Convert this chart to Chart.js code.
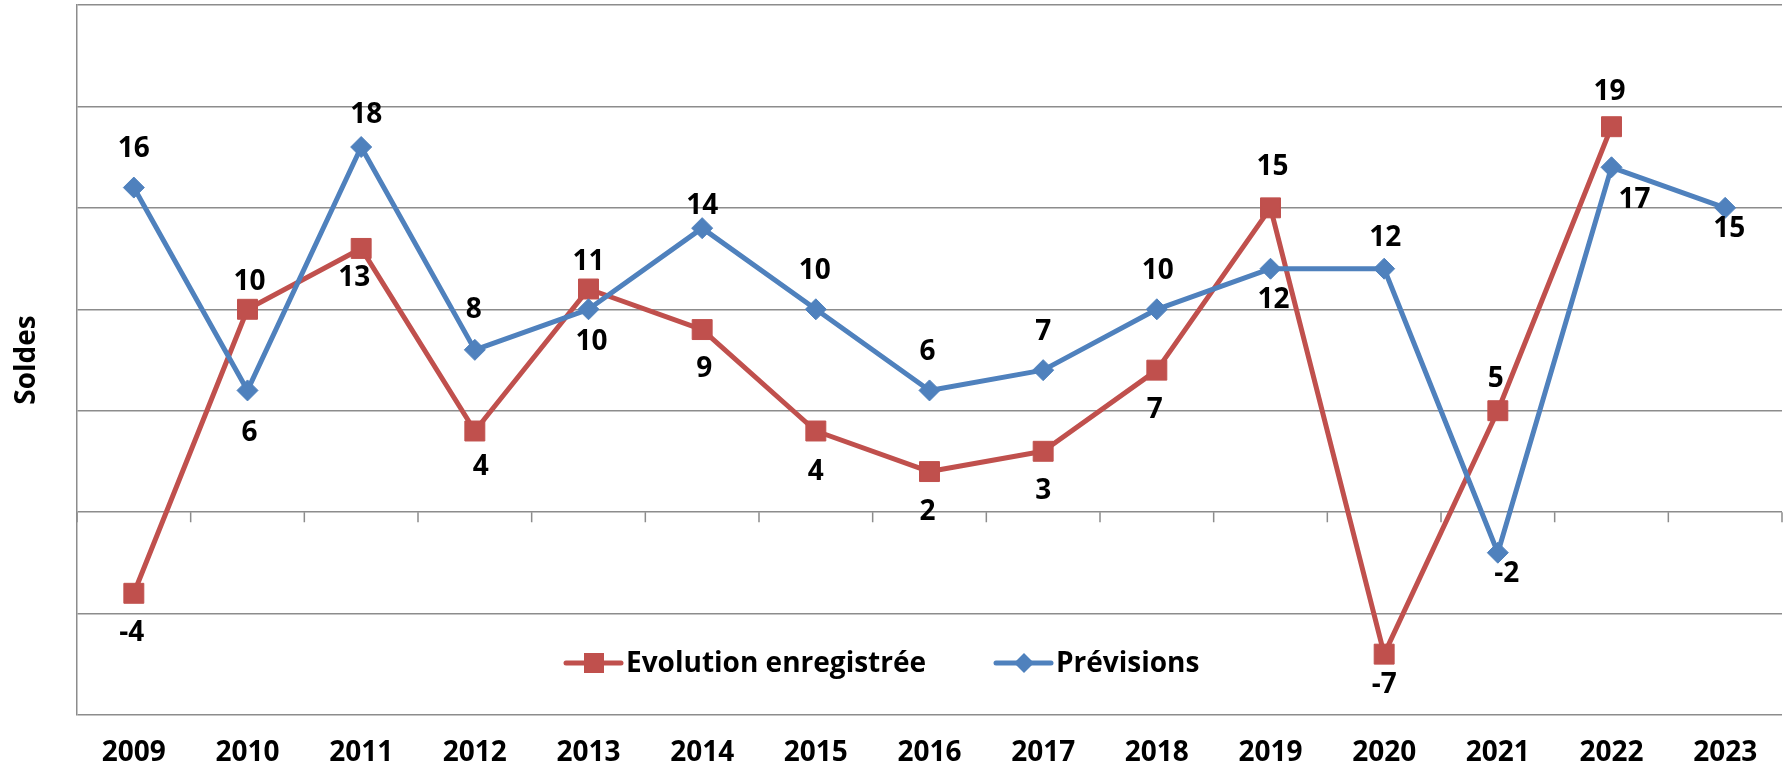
<!DOCTYPE html>
<html><head><meta charset="utf-8">
<script src="https://cdn.jsdelivr.net/npm/chart.js@4.4.1/dist/chart.umd.min.js"></script>
<style>html,body{margin:0;padding:0;background:#fff}canvas{display:block}</style>
</head><body>
<canvas id="c" width="1787" height="768"></canvas>
<script>
// ---- data ----
const years = ['2009','2010','2011','2012','2013','2014','2015','2016','2017','2018','2019','2020','2021','2022','2023'];
const evolutionEnregistree = [-4, 10, 13, 4, 11, 9, 4, 2, 3, 7, 15, -7, 5, 19, null];
const previsions = [16, 6, 18, 8, 10, 14, 10, 6, 7, 10, 12, 12, -2, 17, 15];
const seriesNames = ['Evolution enregistrée', 'Prévisions'];
const yTitle = 'Soldes';
const yMin = -10, yMax = 25, yStep = 5;

// ---- styling ----
const RED = '#C0504D', BLUE = '#4F81BD', GRID = '#8C8C8C';
const FONT = '"Open Sans", "DejaVu Sans", sans-serif';
// data-label offsets (dx, dy) in pixels from each marker
const labelOffsetsRed = [[-2,40],[2,-27],[-7,30],[6,36],[0,-27],[2,39],[0,41],[-2,40],[0,40],[-2,40],[2,-41],[0,31],[-2,-32],[-2,-35],null];
const labelOffsetsBlue = [[0,-39],[2,43],[5,-32],[-1,-40],[3,33],[0,-22],[-1,-38],[-2,-38],[0,-38],[1,-38],[3,31],[1,-31],[9,21],[23,33],[4,21]];

const zeroTicks = {
  id: 'zeroTicks',
  beforeDatasetsDraw(chart) {
    const {ctx, scales: {x, y}} = chart;
    const y0 = y.getPixelForValue(0);
    ctx.save();
    ctx.strokeStyle = GRID; ctx.lineWidth = 1.5;
    ctx.beginPath();
    for (let i = 0; i <= years.length; i++) {
      const px = x.getPixelForValue(i - 0.5);
      ctx.moveTo(px, y0); ctx.lineTo(px, y0 + 10);
    }
    ctx.stroke();
    ctx.restore();
  }
};

const dataLabels = {
  id: 'dataLabels',
  afterDatasetsDraw(chart) {
    const ctx = chart.ctx;
    ctx.save();
    ctx.font = 'bold 28px ' + FONT;
    ctx.fillStyle = '#000';
    ctx.textAlign = 'center';
    ctx.textBaseline = 'middle';
    chart.data.datasets.forEach((ds, di) => {
      const meta = chart.getDatasetMeta(di);
      const offs = ds.labelOffsets;
      meta.data.forEach((pt, i) => {
        const v = ds.data[i];
        if (v === null || v === undefined || !offs[i]) return;
        ctx.fillText(String(v), pt.x + offs[i][0], pt.y + offs[i][1]);
      });
    });
    ctx.restore();
  }
};

const customLegend = {
  id: 'customLegend',
  afterDraw(chart) {
    const ctx = chart.ctx;
    const ca = chart.chartArea;
    const ly = ca.bottom - 52;
    const starts = [ca.left + 489, ca.left + 919];
    ctx.save();
    ctx.font = 'bold 28px ' + FONT;
    ctx.textBaseline = 'middle';
    ctx.textAlign = 'left';
    chart.data.datasets.forEach((ds, di) => {
      const x0 = starts[di];
      ctx.strokeStyle = ds.borderColor; ctx.lineWidth = 5; ctx.lineCap = 'round';
      ctx.beginPath(); ctx.moveTo(x0, ly); ctx.lineTo(x0 + 55, ly); ctx.stroke();
      ctx.fillStyle = ds.borderColor;
      const mx = x0 + 28;
      ctx.beginPath();
      if (ds.pointStyle === 'rect') {
        ctx.rect(mx - 10, ly - 10, 20, 20);
      } else {
        ctx.moveTo(mx - 10, ly); ctx.lineTo(mx, ly - 10); ctx.lineTo(mx + 10, ly); ctx.lineTo(mx, ly + 10); ctx.closePath();
      }
      ctx.fill();
      ctx.fillStyle = '#000';
      ctx.fillText(ds.label, x0 + 60, ly + 1);
    });
    ctx.restore();
  }
};

new Chart(document.getElementById('c'), {
  type: 'line',
  data: {
    labels: years,
    datasets: [
      {
        label: seriesNames[0], data: evolutionEnregistree, labelOffsets: labelOffsetsRed,
        borderColor: RED, backgroundColor: RED, borderWidth: 5, borderJoinStyle: 'round',
        pointStyle: 'rect', pointRadius: 14.1, pointHoverRadius: 14.1,
        pointBackgroundColor: RED, pointBorderColor: RED, pointBorderWidth: 1,
        tension: 0, order: 1
      },
      {
        label: seriesNames[1], data: previsions, labelOffsets: labelOffsetsBlue,
        borderColor: BLUE, backgroundColor: BLUE, borderWidth: 5, borderJoinStyle: 'round',
        pointStyle: 'rectRot', pointRadius: 10.5, pointHoverRadius: 10.5,
        pointBackgroundColor: BLUE, pointBorderColor: BLUE, pointBorderWidth: 1,
        tension: 0, order: 0
      }
    ]
  },
  options: {
    responsive: false,
    animation: false,
    layout: { autoPadding: false, padding: { top: 5, right: 5, left: 0, bottom: 0 } },
    plugins: { legend: { display: false }, tooltip: { enabled: false } },
    scales: {
      x: {
        type: 'category',
        offset: true,
        grid: { display: false, drawTicks: false },
        border: { display: false },
        ticks: { color: '#000', font: { family: FONT, size: 28, weight: 'bold' }, padding: 21, maxRotation: 0, autoSkip: false },
        afterFit(s) { s.height = 53; }
      },
      y: {
        min: yMin, max: yMax,
        ticks: { display: false, stepSize: yStep },
        grid: { color: GRID, lineWidth: 1.5, drawTicks: false },
        border: { display: true, color: GRID, width: 1.5 },
        title: { display: true, text: yTitle, color: '#000', font: { family: FONT, size: 28, weight: 'bold' }, padding: { top: 10, bottom: 0 } },
        afterFit(s) { s.width = 77; }
      }
    }
  },
  plugins: [zeroTicks, dataLabels, customLegend]
});
</script>
</body></html>
